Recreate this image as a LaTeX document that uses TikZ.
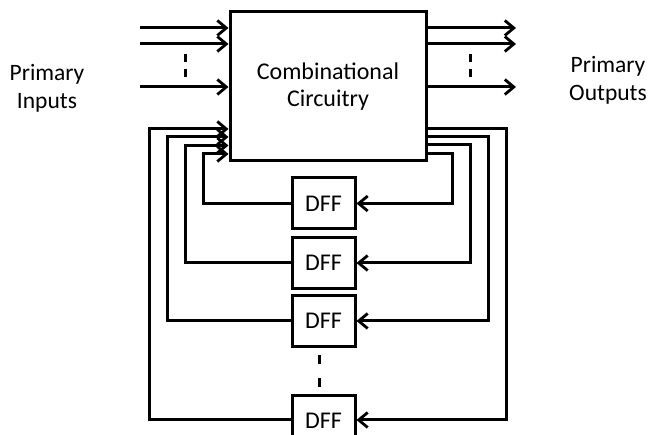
\documentclass[tikz,border=0pt]{standalone}
\usepackage{fontspec}
\setmainfont{Carlito}
\usetikzlibrary{arrows.meta}
\begin{document}
\begin{tikzpicture}[x=1pt,y=-1pt,
  line width=3pt,
  arr/.style={-{Straight Barb[length=9pt,width=15pt,line width=2.8pt]}},
  boxstyle/.style={draw,line width=3pt,inner sep=0pt,font=\fontsize{24}{28}\selectfont},
  lbl/.style={align=center,font=\fontsize{23.5}{28}\selectfont},
  dashv/.style={line width=3pt,dash pattern=on 8pt off 7pt}
]
\useasboundingbox (0,0) rectangle (649,435);
\fill[white] (0,0) rectangle (649,435);

% main block
\node[boxstyle,minimum width=196pt,minimum height=149pt,align=center] (comb) at (328,86.5) {Combinational\\[-1pt]Circuitry};

% DFFs
\node[boxstyle,minimum width=63pt,minimum height=51pt] (d1) at (323.5,203.5) {DFF};
\node[boxstyle,minimum width=63pt,minimum height=51pt] (d2) at (323.5,263) {DFF};
\node[boxstyle,minimum width=63pt,minimum height=51pt] (d3) at (323.5,321) {DFF};
\node[boxstyle,minimum width=63pt,minimum height=51pt] (d4) at (323.5,421) {DFF};

% labels
\node[lbl] (pin) at (47,88) {Primary\\Inputs};
\node[lbl] (pout) at (608,80) {Primary\\Outputs};

% primary inputs
\coordinate (a1) at (140,28);
\coordinate (a2) at (140,44);
\coordinate (a3) at (140,87);
\draw[arr] (a1) -- (comb.west |- a1);
\draw[arr] (a2) -- (comb.west |- a2);
\draw[arr] (a3) -- (comb.west |- a3);
\coordinate (id1) at (185,54);
\coordinate (id2) at (185,79);
\draw[dashv] (id1) -- (id2);

% primary outputs
\coordinate (b1) at (516,28);
\coordinate (b2) at (516,44);
\coordinate (b3) at (516,87);
\draw[arr] (comb.east |- b1) -- (b1);
\draw[arr] (comb.east |- b2) -- (b2);
\draw[arr] (comb.east |- b3) -- (b3);
\coordinate (od1) at (470,54);
\coordinate (od2) at (470,79);
\draw[dashv] (od1) -- (od2);

% feedback: DFF outputs to combinational inputs
\coordinate (L1) at (203,154);
\coordinate (L2) at (185,145.5);
\coordinate (L3) at (167,137);
\coordinate (L4) at (149,129);
\draw[arr,line join=miter] (d1.west) -| (L1) -- (comb.west |- L1);
\draw[arr,line join=miter] (d2.west) -| (L2) -- (comb.west |- L2);
\draw[arr,line join=miter] (d3.west) -| (L3) -- (comb.west |- L3);
\draw[arr,line join=miter] (d4.west |- 0,420) -| (L4) -- (comb.west |- L4);

% feedback: combinational outputs to DFF inputs
\coordinate (R1) at (452,154);
\coordinate (R2) at (470,145);
\coordinate (R3) at (488,137);
\coordinate (R4) at (506,129);
\draw[arr,line join=miter] (comb.east |- R1) -- (R1) |- (d1.east);
\draw[arr,line join=miter] (comb.east |- R2) -- (R2) |- (d2.east);
\draw[arr,line join=miter] (comb.east |- R3) -- (R3) |- (d3.east);
\draw[arr,line join=miter] (comb.east |- R4) -- (R4) |- (d4.east |- 0,420);

% dashes between DFFs
\coordinate (dd1) at (319,355);
\coordinate (dd2) at (319,389);
\draw[dashv,dash pattern=on 9pt off 14pt] (dd1) -- (dd2);
\end{tikzpicture}
\end{document}
